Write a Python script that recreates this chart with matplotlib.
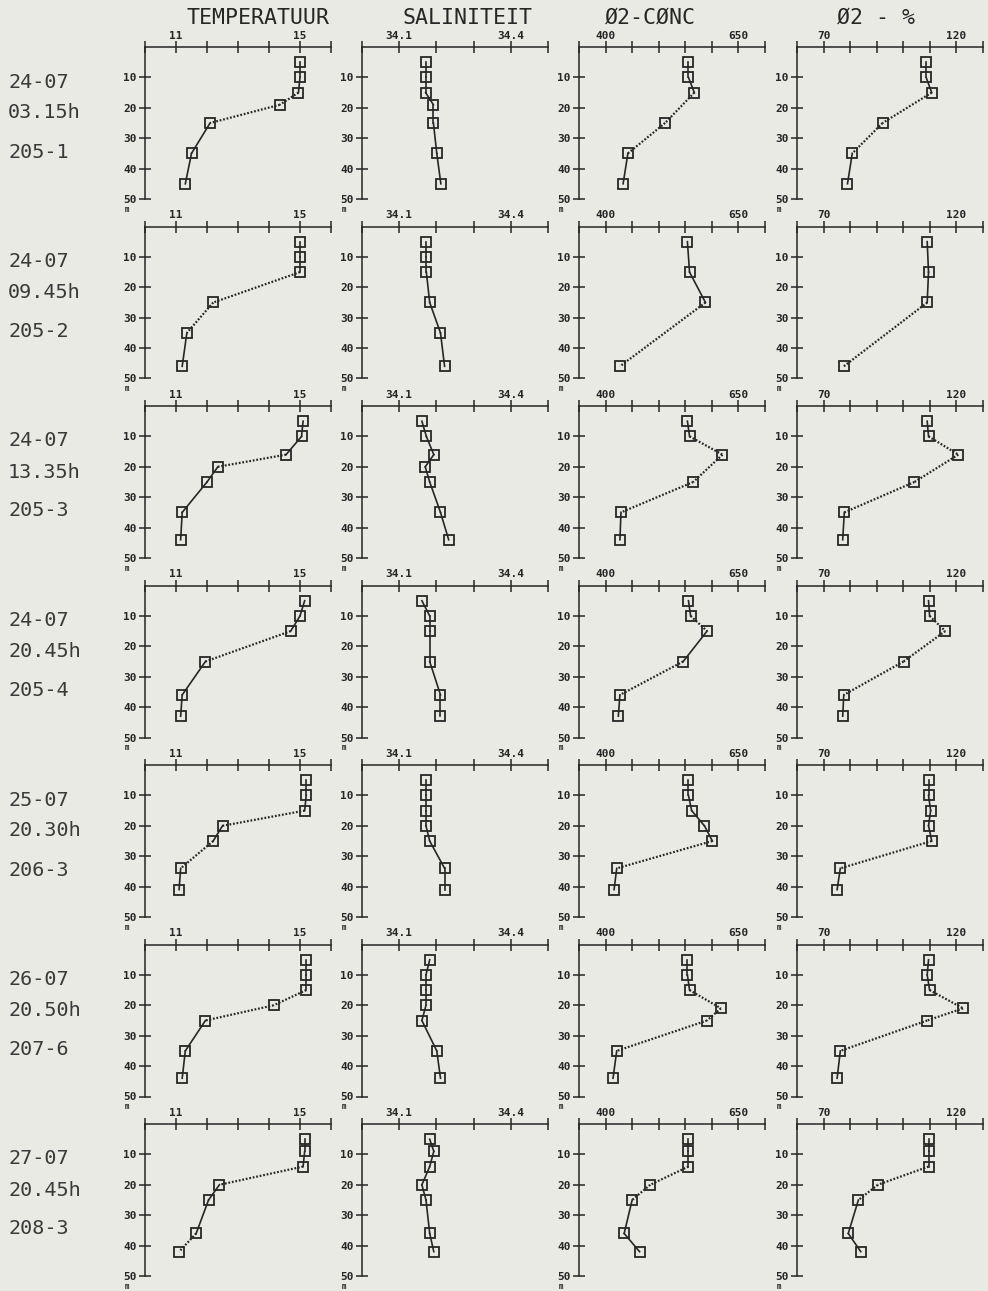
import numpy as np
import matplotlib.pyplot as plt

# station info per row
dates = ['24-07', '24-07', '24-07', '24-07', '25-07', '26-07', '27-07']
times = ['03.15h', '09.45h', '13.35h', '20.45h', '20.30h', '20.50h', '20.45h']
stations = ['205-1', '205-2', '205-3', '205-4', '206-3', '207-6', '208-3']

# depth levels (m) used for temperature / salinity
ts_depth = [
    [5, 10, 15, 19, 25, 35, 45],
    [5, 10, 15, 25, 35, 46],
    [5, 10, 16, 20, 25, 35, 44],
    [5, 10, 15, 25, 36, 43],
    [5, 10, 15, 20, 25, 34, 41],
    [5, 10, 15, 20, 25, 35, 44],
    [5, 9, 14, 20, 25, 36, 42],
]
temp = [
    [15.0, 15.0, 14.95, 14.35, 12.1, 11.5, 11.3],
    [15.0, 15.0, 15.0, 12.2, 11.35, 11.2],
    [15.1, 15.05, 14.55, 12.35, 12.0, 11.2, 11.15],
    [15.15, 15.0, 14.7, 11.95, 11.2, 11.15],
    [15.2, 15.2, 15.15, 12.5, 12.2, 11.15, 11.1],
    [15.2, 15.2, 15.2, 14.15, 11.95, 11.3, 11.2],
    [15.15, 15.15, 15.1, 12.4, 12.05, 11.65, 11.1],
]
sal = [
    [34.171, 34.171, 34.171, 34.192, 34.192, 34.201, 34.212],
    [34.173, 34.173, 34.173, 34.182, 34.211, 34.222],
    [34.161, 34.173, 34.193, 34.170, 34.182, 34.211, 34.233],
    [34.161, 34.182, 34.182, 34.182, 34.211, 34.211],
    [34.172, 34.172, 34.172, 34.172, 34.182, 34.222, 34.222],
    [34.182, 34.172, 34.172, 34.172, 34.161, 34.201, 34.211],
    [34.182, 34.193, 34.182, 34.161, 34.172, 34.182, 34.193],
]

# depth levels for oxygen
o2_depth = [
    [5, 10, 15, 25, 35, 45],
    [5, 15, 25, 46],
    [5, 10, 16, 25, 35, 44],
    [5, 10, 15, 25, 36, 43],
    [5, 10, 15, 20, 25, 34, 41],
    [5, 10, 15, 21, 25, 35, 44],
    [5, 9, 14, 20, 25, 36, 42],
]
o2_conc = [
    [556, 556, 567, 512, 442, 433],
    [554, 558, 588, 427],
    [554, 558, 620, 565, 429, 427],
    [556, 560, 591, 546, 427, 424],
    [556, 556, 562, 586, 601, 421, 416],
    [554, 554, 558, 617, 591, 421, 414],
    [556, 556, 556, 484, 450, 435, 464],
]
o2_pct = [
    [108.6, 108.6, 110.7, 92.2, 80.8, 79.0],
    [109.0, 109.5, 109.0, 77.6],
    [109.0, 109.5, 120.7, 104.2, 77.8, 77.2],
    [109.5, 109.9, 115.8, 100.1, 77.6, 77.2],
    [109.5, 109.5, 110.3, 109.5, 110.7, 76.3, 75.1],
    [109.5, 109.0, 109.9, 122.5, 109.0, 76.3, 75.1],
    [109.5, 109.5, 109.5, 90.4, 83.1, 79.3, 84.0],
]

titles = ['TEMPERATUUR', 'SALINITEIT', 'Ø2-CØNC', 'Ø2 - %']
xlims = [(10, 16), (34.0, 34.5), (350, 700), (60, 130)]
xsteps = [1, 0.1, 50, 10]
xlabeled = [(11, 15), (34.1, 34.4), (400, 650), (70, 120)]
xfmt = ['{:.0f}', '{:.1f}', '{:.0f}', '{:.0f}']

paper = '#eaeae5'
ink = '#262626'
mono = 'DejaVu Sans Mono'

W, H = 988, 1291
fig = plt.figure(figsize=(W / 100, H / 100), dpi=100, facecolor=paper)

col_left = [145, 362, 579, 797]
panel_w = 186
panel_h = 152
row_top0 = 47
row_pitch = 179.5
title_x = [258, 467, 650, 876]

for j, t in enumerate(titles):
    fig.text(title_x[j] / W, 1 - 18 / H, t, ha='center', va='center',
             fontsize=15.5, family=mono, color=ink)


def draw_profile(ax, x, d):
    x = np.asarray(x, float)
    d = np.asarray(d, float)
    pts = ax.transData.transform(np.column_stack([x, d]))
    for i in range(len(x) - 1):
        dx, dy = np.abs(pts[i + 1] - pts[i])
        if dx > 0.85 * dy:
            # plotter draws the steep-gradient segments as a dotted line
            ax.plot(x[i:i + 2], d[i:i + 2], color=ink, lw=1.6, ls=(0, (0.8, 0.8)))
        else:
            ax.plot(x[i:i + 2], d[i:i + 2], color=ink, lw=1.2, ls='-')
    ax.plot(x, d, ls='none', marker='s', ms=7.2, mfc='none', mec=ink, mew=1.3)


for r in range(7):
    top = row_top0 + r * row_pitch
    # station label on the left
    for txt, off in zip([dates[r], times[r], stations[r]], [35, 66, 105]):
        fig.text(8 / W, 1 - (top + off) / H, txt, ha='left', va='center',
                 fontsize=14.5, family=mono, color='#3a3a3a')

    series = [(temp[r], ts_depth[r]), (sal[r], ts_depth[r]),
              (o2_conc[r], o2_depth[r]), (o2_pct[r], o2_depth[r])]
    for c in range(4):
        ax = fig.add_axes([col_left[c] / W, 1 - (top + panel_h) / H,
                           panel_w / W, panel_h / H])
        ax.set_facecolor('none')
        lo, hi = xlims[c]
        ax.set_xlim(lo, hi)
        ax.set_ylim(50, 0)
        for s in ['right', 'bottom']:
            ax.spines[s].set_visible(False)
        for s in ['top', 'left']:
            ax.spines[s].set_linewidth(1.1)
            ax.spines[s].set_color(ink)

        ticks = np.round(np.arange(lo, hi + xsteps[c] / 2, xsteps[c]), 3)
        ax.set_xticks(ticks)
        labs = [xfmt[c].format(v) if any(abs(v - L) < 1e-6 for L in xlabeled[c]) else ''
                for v in ticks]
        ax.set_xticklabels(labs)
        ax.xaxis.tick_top()
        ax.tick_params(axis='x', direction='inout', length=8, width=1.1, color=ink,
                       pad=0.5, labelsize=8, labelcolor=ink)
        ax.set_yticks([10, 20, 30, 40, 50])
        ax.tick_params(axis='y', direction='inout', length=8, width=1.1, color=ink,
                       pad=2, labelsize=8, labelcolor=ink)
        for lab in ax.get_xticklabels() + ax.get_yticklabels():
            lab.set_family(mono)
            lab.set_fontweight('bold')

        ax.text(-0.095, -0.068, 'm', transform=ax.transAxes, ha='center', va='center',
                fontsize=5.5, family=mono, fontweight='bold', color=ink)

        draw_profile(ax, series[c][0], series[c][1])

fig.savefig('out.png', dpi=100, facecolor=paper)
